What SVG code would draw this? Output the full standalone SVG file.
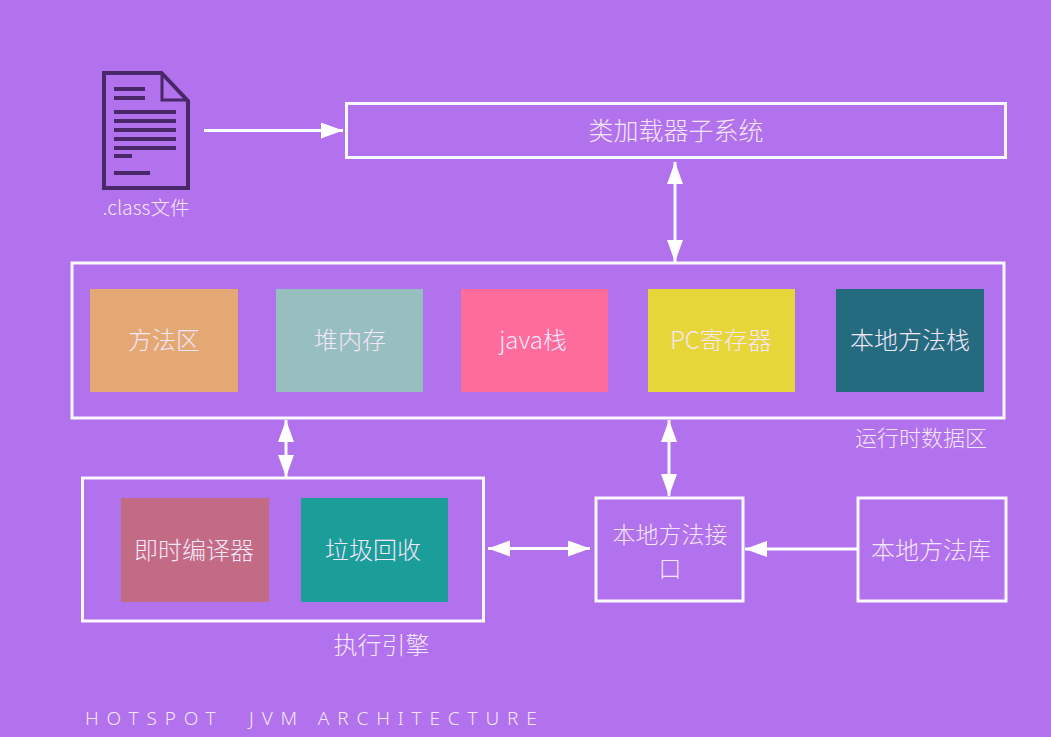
<svg xmlns="http://www.w3.org/2000/svg" width="1051" height="737" viewBox="0 0 1051 737">
<style>
text{font-family:"Noto Sans CJK SC","Noto Sans","Liberation Sans",sans-serif;fill:#f4e6fb;font-size:24px;font-weight:300;text-anchor:middle}
.box{fill:none;stroke:#fff;stroke-width:3;opacity:.95}
.ln{fill:none;stroke:#fff;stroke-width:3}
.d{fill:#4a2768}
</style>
<defs>
<marker id="a" markerUnits="userSpaceOnUse" markerWidth="24" markerHeight="18" refX="22" refY="8" orient="auto-start-reverse"><path d="M0,0L22,8L0,16Z" fill="#fff"/></marker>
</defs>
<rect width="1051" height="737" fill="#b271ed"/>
<g id="file-icon">
<path d="M104,73H161.500L188,101V188H104Z" fill="none" stroke="#4a2768" stroke-width="4"/>
<path d="M162,75V100H187" fill="none" stroke="#4a2768" stroke-width="3"/>
<g class="d"><rect x="114" y="87" width="31" height="4"/><rect x="114" y="96" width="31" height="4"/><rect x="114" y="110" width="62" height="4"/><rect x="114" y="119" width="62" height="4"/><rect x="114" y="128" width="62" height="4"/><rect x="114" y="137" width="62" height="4"/><rect x="114" y="146" width="62" height="4"/><rect x="114" y="154" width="18" height="4"/><rect x="114" y="171" width="36" height="4"/></g>
<text x="146" y="215" style="font-size:19.500px">.class文件</text>
</g>
<g id="connectors">
<path class="ln" d="M204,130.500H343" marker-end="url(#a)"/>
<path class="ln" d="M675,162V262" marker-start="url(#a)" marker-end="url(#a)"/>
<path class="ln" d="M286,420V477" marker-start="url(#a)" marker-end="url(#a)"/>
<path class="ln" d="M669,420V496" marker-start="url(#a)" marker-end="url(#a)"/>
<path class="ln" d="M488,548.500H590" marker-start="url(#a)" marker-end="url(#a)"/>
<path class="ln" d="M857,549H745" marker-end="url(#a)"/>
</g>
<g id="classloader"><rect class="box" x="346.500" y="103.500" width="659" height="54"/><text x="676" y="140" style="font-size:25px">类加载器子系统</text></g>
<g id="runtime-data"><rect class="box" x="72" y="263" width="932" height="155"/><text x="921" y="446" style="font-size:22px">运行时数据区</text></g>
<g id="method-area"><rect x="90" y="289" width="148" height="103" fill="#e3a873"/><text x="164" y="349">方法区</text></g>
<g id="heap"><rect x="276" y="289" width="147" height="103" fill="#97bfbf"/><text x="350" y="349">堆内存</text></g>
<g id="java-stack"><rect x="461" y="289" width="147" height="103" fill="#fe6c9c"/><text x="533" y="349">java栈</text></g>
<g id="pc-register"><rect x="648" y="289" width="147" height="103" fill="#e6d63a"/><text x="721" y="349">PC寄存器</text></g>
<g id="native-stack"><rect x="836" y="289" width="148" height="103" fill="#256b80"/><text x="910" y="349">本地方法栈</text></g>
<g id="exec-engine"><rect class="box" x="82.500" y="478" width="401" height="143"/><text x="381.500" y="654">执行引擎</text></g>
<g id="jit"><rect x="121" y="498" width="148" height="104" fill="#c36a85"/><text x="194" y="559">即时编译器</text></g>
<g id="gc"><rect x="301" y="498" width="147" height="104" fill="#1b9e9a"/><text x="373" y="559">垃圾回收</text></g>
<g id="native-interface"><rect class="box" x="596" y="498" width="147" height="103"/><text x="670" y="543" style="font-size:23px">本地方法接</text><text x="670" y="577" style="font-size:23px">口</text></g>
<g id="native-lib"><rect class="box" x="858" y="498" width="148" height="103"/><text x="931" y="559">本地方法库</text></g>
<text x="85" y="725" style="font-size:19px;letter-spacing:7.850px;text-anchor:start;white-space:pre;font-family:'Noto Sans',sans-serif">HOTSPOT  JVM ARCHITECTURE</text>
</svg>
